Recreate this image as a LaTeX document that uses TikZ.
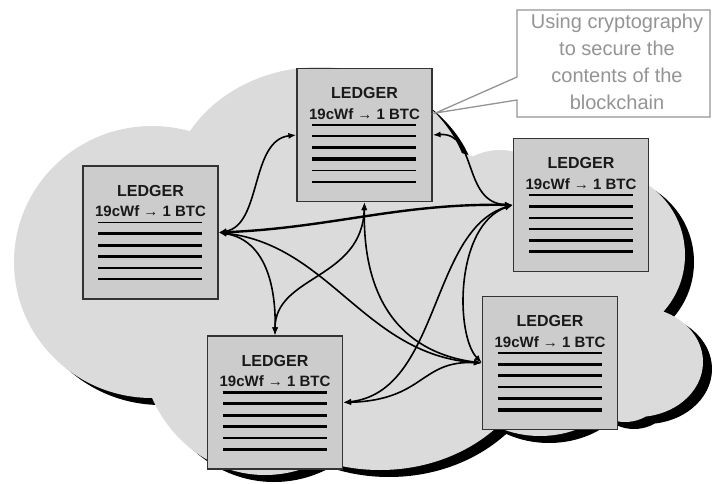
\documentclass[tikz,border=0pt]{standalone}
\usepackage{fontspec}
\setmainfont{Liberation Sans}
\usetikzlibrary{calc,arrows.meta}
\definecolor{cloudgray}{gray}{0.86}
\definecolor{boxgray}{gray}{0.80}
\definecolor{callgray}{gray}{0.58}
\def\cloudlist{152/262/138/136, 320/195/150/128, 500/210/60/60, 600/255/85/85, 637/362/66/55, 625/380/42/42, 540/360/90/76, 380/335/160/135, 265/340/125/135, 360/280/240/140}
\newcommand\ledgerbox[4]{%
  \node[ledger] (#1) at (#2,#3) {};
  \node[ltext,font=\bfseries\fontsize{16}{16}\selectfont,anchor=base] (#1t) at ($(#1.north)+(0,31)$) {LEDGER};
  \node[ltext,anchor=base] (#1s) at ($(#1.north)+(0,51.5)$) {19cWf → 1 BTC};
  \foreach \w [count=\i from 0] in {#4} {\draw[line width=\w pt] ($(#1.north west)+(16,57+11.4*\i)$) -- ++(104,0);}
}
\begin{document}
\begin{tikzpicture}[x=1pt,y=-1pt,
  ledger/.style={draw=black!80, fill=boxgray, line width=1.2pt, minimum width=135pt, minimum height=133pt, inner sep=0pt},
  ltext/.style={font=\bfseries\fontsize{15}{15}\selectfont, text=black!90, inner sep=0pt},
  link/.style={line width=1.6pt, {Latex[length=8pt,width=6pt]}-{Latex[length=8pt,width=6pt]}},
  calltext/.style={align=center, text=callgray, font=\fontsize{20}{27}\selectfont, inner sep=0pt},
  callout/.style={draw=callgray, fill=white, line width=1.3pt}]
\useasboundingbox (0,0) rectangle (712,484);
% cloud shadow and cloud
\fill[black] \foreach \cx/\cy/\rx/\ry in \cloudlist {(\cx+9,\cy+7) ellipse [x radius=\rx pt, y radius=\ry pt]};
\fill[cloudgray] \foreach \cx/\cy/\rx/\ry in \cloudlist {(\cx,\cy) ellipse [x radius=\rx pt, y radius=\ry pt]};
% ledgers
\ledgerbox{T}{364.5}{135}{2,2,3.3,4,1.7,2}
\ledgerbox{L}{150.5}{232.5}{1.7,3,3.3,3,2,2}
\ledgerbox{R}{581}{205}{2.7,3,2.3,2,3,3}
\ledgerbox{BL}{275}{402.5}{2.7,3.3,3,2.3,1.7,2.7}
\ledgerbox{BR}{550}{363}{2.7,3,3,2.7,3.3,3.3}
% connectors
\draw[link] (L.east) .. controls (262,225) and (250,140) .. (T.west);
\draw[link] (T.east) .. controls (478,132) and (462,203) .. (R.west);
\draw[link,line width=2.4pt] (L.east) .. controls (330,228) and (400,203) .. (R.west);
\draw[link] (L.east) .. controls (265,240) and (276,285) .. (BL.north);
\draw[link] (BL.north) .. controls (275,275) and (362,280) .. (T.south);
\draw[link] (L.east) .. controls (330,245) and (365,355) .. (BR.west);
\draw[link] (T.south) .. controls (362,320) and (420,355) .. (BR.west);
\draw[link] (R.west) .. controls (430,230) and (440,392) .. (BL.east);
\draw[link] (R.west) .. controls (455,225) and (455,335) .. (BR.west);
\draw[link] (BR.west) .. controls (420,360) and (425,400) .. (BL.east);
% callout
\coordinate (tip) at ($(T.east)+(3,-22)$);
\draw[callout] (517,10) -- (710,10) -- (710,117) -- (517,117) -- (517,100) -- (tip) -- (517,77) -- cycle;
\node[calltext] (ct) at (617,62) {Using cryptography\\to secure the\\contents of the\\blockchain};
\end{tikzpicture}
\end{document}
